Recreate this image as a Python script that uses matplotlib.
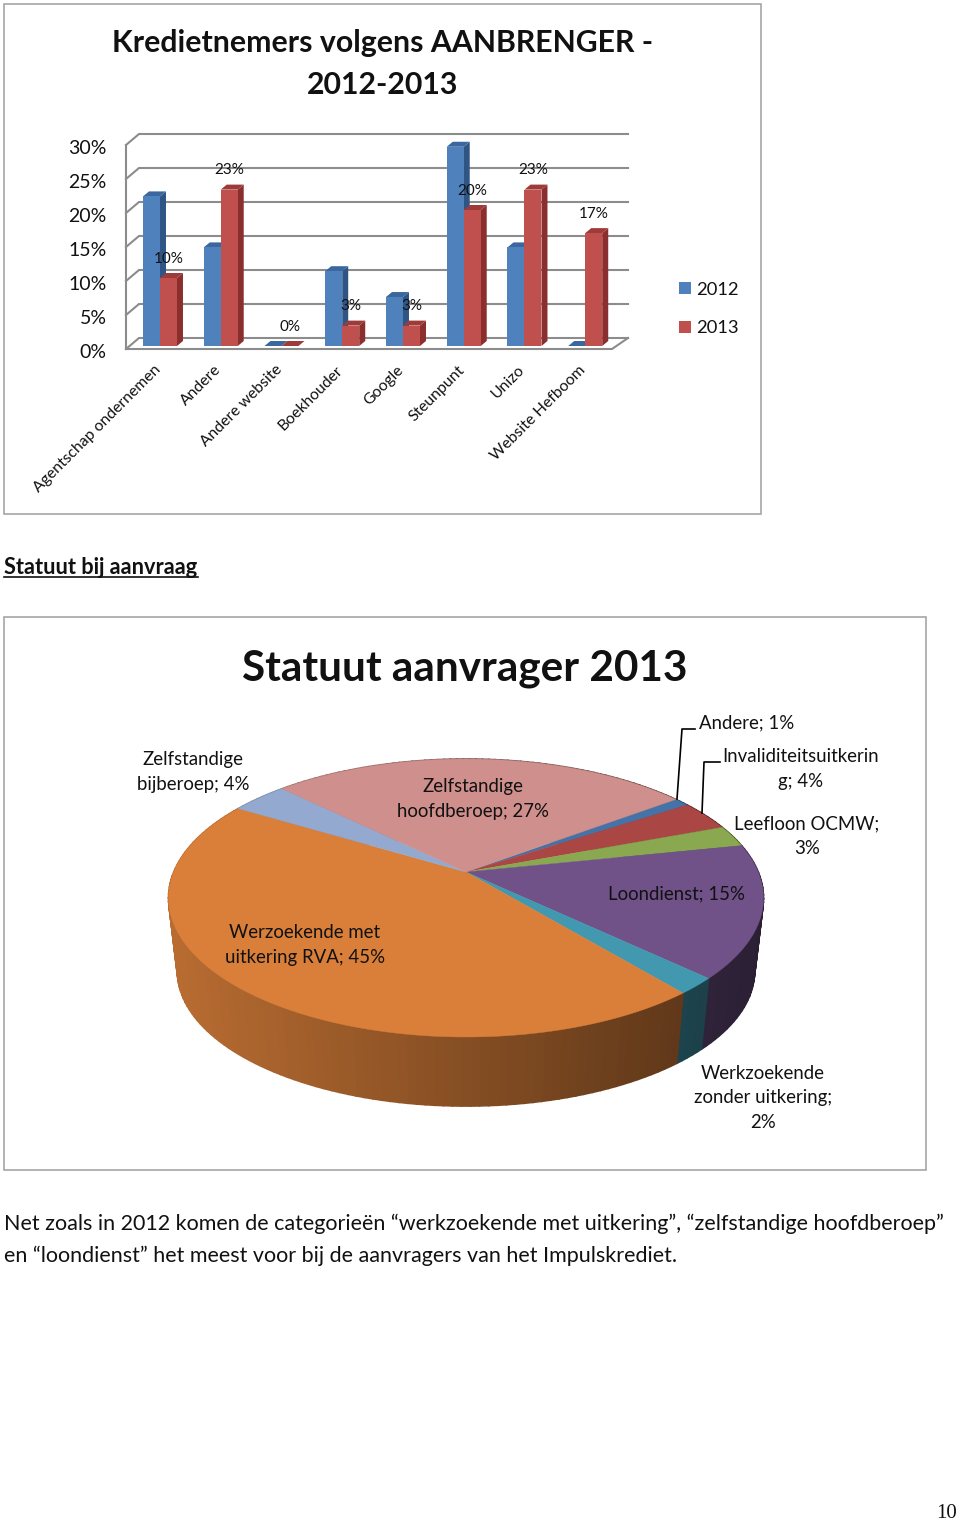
#!/usr/bin/env python3
import numpy as np
import matplotlib
matplotlib.use('Agg')
import matplotlib.pyplot as plt
from matplotlib.patches import Rectangle
from matplotlib.transforms import ScaledTranslation

plt.rcParams['font.family'] = ['Lato', 'DejaVu Sans']

W, H = 960, 1521

# bar chart data
categories = ['Agentschap ondernemen', 'Andere', 'Andere website', 'Boekhouder',
              'Google', 'Steunpunt', 'Unizo', 'Website Hefboom']
values_2012 = [22.0, 14.5, 0.0, 11.0, 7.2, 29.3, 14.5, 0.0]
values_2013 = [10.0, 23.0, 0.0, 3.0, 3.0, 20.0, 23.0, 16.6]
percent_ticks = [0, 5, 10, 15, 20, 25, 30]

# pie chart data, clockwise from the first slice
pie_values = [1.0, 3.5, 2.5, 15.4, 1.9, 44.6, 3.7, 27.3]
pie_labels = ['Andere; 1%', 'Invaliditeitsuitkerin\ng; 4%', 'Leefloon OCMW;\n3%',
              'Loondienst; 15%', 'Werkzoekende\nzonder uitkering;\n2%',
              'Werzoekende met\nuitkering RVA; 45%', 'Zelfstandige\nbijberoep; 4%',
              'Zelfstandige\nhoofdberoep; 27%']
pie_colors = ['#4573A7', '#AA4644', '#8AA84F', '#705289', '#4198AF', '#D97F3A',
              '#93A9CF', '#CF8F8C']

fig = plt.figure(figsize=(W / 100, H / 100), dpi=100, facecolor='white')

# page axes in pixels, for the frames, page text and the pie
page = fig.add_axes([0, 0, 1, 1])
page.set_xlim(0, W)
page.set_ylim(H, 0)
page.axis('off')

page.add_patch(Rectangle((4, 4), 757, 510, fill=False, ec='#a6a6a6', lw=1.2))
page.add_patch(Rectangle((4, 617), 922, 553, fill=False, ec='#a6a6a6', lw=1.2))

page.text(383, 43, 'Kredietnemers volgens AANBRENGER -', fontsize=21.8, weight='bold',
          ha='center', va='center', color='#111111')
page.text(383, 85, '2012-2013', fontsize=21.8, weight='bold', ha='center', va='center',
          color='#111111')
page.text(465, 669, 'Statuut aanvrager 2013', fontsize=30.4, weight='bold', ha='center',
          va='center', color='#111111')
page.text(4, 568, 'Statuut bij aanvraag', fontsize=15.7, weight='bold', ha='left',
          va='center', color='#111111')
page.plot([4, 198], [577, 577], color='#111111', lw=1.2)
page.text(4, 1224, 'Net zoals in 2012 komen de categorieën “werkzoekende met uitkering”, '
          '“zelfstandige hoofdberoep”', fontsize=15.47, ha='left', va='center', color='#111111')
page.text(4, 1256, 'en “loondienst” het meest voor bij de aanvragers van het Impulskrediet.',
          fontsize=15.47, ha='left', va='center', color='#111111')
page.text(947, 1513, '10', fontsize=15, family='Liberation Serif', ha='center', va='center',
          color='#111111')

# bar chart axes: 0% sits on the front edge of the floor
ax = fig.add_axes([126 / W, 1 - 349 / H, 486 / W, 204 / H])
ax.patch.set_alpha(0)
ax.set_xlim(0, len(categories))
ax.set_ylim(0, 30)
for s in ax.spines.values():
    s.set_visible(False)

# size of one pixel in data units
px = len(categories) / 486
py = 30 / 204

wall_dx = 13 * px
wall_dy = 11 * py
grid_color = '#8c8c8c'
for t in percent_ticks:
    ax.plot([0, wall_dx, 489 * px + wall_dx], [t, t + wall_dy, t + wall_dy],
            color=grid_color, lw=1.5, clip_on=False, zorder=1, solid_joinstyle='miter')
ax.plot([0, 0], [0, 30], color=grid_color, lw=1.5, clip_on=False, zorder=1)
ax.plot([0, 486 * px, 486 * px + 16 * px], [0, 0, wall_dy], color=grid_color, lw=1.5,
        clip_on=False, zorder=1)

bar_w = 17 * px
depth_x = 6 * px
depth_y = 5 * py
base = 3 * py
shift = 3.6 * px
x_pos = np.arange(len(categories)) + 0.5 + shift


def draw_bars(xs, vals, front, side, top, z):
    bars = ax.bar(xs, vals, bar_w, bottom=base, align='edge', color=front, clip_on=False,
                  zorder=z + 1, linewidth=0)
    for x, v in zip(xs, vals):
        y = base + v
        ax.fill([x + bar_w, x + bar_w + depth_x, x + bar_w + depth_x, x + bar_w],
                [base, base + depth_y, y + depth_y, y], color=side, clip_on=False,
                zorder=z, lw=0)
        ax.fill([x, x + depth_x, x + bar_w + depth_x, x + bar_w],
                [y, y + depth_y, y + depth_y, y], color=top, clip_on=False, zorder=z, lw=0)
    return bars


bars_2012 = draw_bars(x_pos - bar_w, values_2012, '#4F81BD', '#2F5585', '#3A689E', 3)
bars_2013 = draw_bars(x_pos, values_2013, '#C0504D', '#8A2F2D', '#9E3B39', 5)

for x, v in zip(x_pos, values_2013):
    ax.annotate('{:.0f}%'.format(v), (x + bar_w / 2, base + v), xytext=(0, 14),
                textcoords='offset points', ha='center', va='center', fontsize=11,
                color='#111111', zorder=8, annotation_clip=False)

ax.set_yticks(percent_ticks)
ax.set_yticklabels(['{}%'.format(t) for t in percent_ticks], fontsize=14, color='#111111')
ax.set_xticks(np.arange(len(categories)) + 0.5)
ax.set_xticklabels(categories, rotation=45, ha='right', va='top', rotation_mode='anchor',
                   fontsize=11.3, color='#111111')
ax.tick_params(axis='y', length=0, pad=14.5)
ax.tick_params(axis='x', length=0, pad=10)
for lab in ax.get_xticklabels():
    lab.set_transform(lab.get_transform() + ScaledTranslation(-0.03, 0, fig.dpi_scale_trans))
for lab in ax.get_yticklabels():
    lab.set_transform(lab.get_transform() + ScaledTranslation(0.01, -0.015, fig.dpi_scale_trans))

leg = fig.legend([bars_2012, bars_2013], ['2012', '2013'], loc='center left',
                 bbox_to_anchor=(662 / W, 1 - 309 / H), frameon=False, fontsize=13.2,
                 handlelength=0.66, handleheight=0.66, handletextpad=0.3, labelspacing=1.25)
for txt in leg.get_texts():
    txt.set_color('#111111')

# pie: a tilted circle through a perspective mapping
apex_x, apex_y = 466, 872
far, near = 113, 165
k = (near - far) / (near + far)
a = far * (1 + k)
half_width = 297.5
c = half_width * np.sqrt(1 - k * k)
rim_scale = 0.97
rim_drop = 74


def top_face(deg):
    u = np.cos(np.radians(deg))
    v = np.sin(np.radians(deg))
    return apex_x + c * u / (1 + k * v), apex_y - a * v / (1 + k * v)


def rim(deg):
    x, y = top_face(deg)
    return apex_x + rim_scale * (x - apex_x), apex_y + rim_scale * (y - apex_y) + rim_drop


def shaded(color, x):
    t = (x - (apex_x - half_width)) / (2 * half_width)
    f = 0.85 - 0.47 * t
    return tuple(f * q for q in matplotlib.colors.to_rgb(color))


angle = 37.0
slices = []
for value, color in zip(pie_values, pie_colors):
    sweep = value / sum(pie_values) * 360
    slices.append((angle, angle - sweep, color))
    angle -= sweep

for start, end, color in slices:
    steps = np.linspace(start, end, max(2, int(abs(start - end) / 1.5) + 2))
    for d0, d1 in zip(steps[:-1], steps[1:]):
        x0, y0 = top_face(d0)
        x1, y1 = top_face(d1)
        x2, y2 = rim(d1)
        x3, y3 = rim(d0)
        col = shaded(color, (x0 + x1) / 2)
        page.fill([x0, x1, x2, x3], [y0, y1, y2, y3], color=col, lw=1.2, zorder=2)

for start, end, color in slices:
    steps = np.linspace(start, end, max(3, int(abs(start - end)) + 2))
    xs, ys = top_face(steps)
    page.fill(np.r_[apex_x, xs], np.r_[apex_y, ys], color=color, lw=0.3, zorder=3)

label_pos = [(747, 723), (801, 769), (807, 836), (676, 894), (763, 1098), (305, 945),
             (193, 772), (473, 799)]
for label, (lx, ly) in zip(pie_labels, label_pos):
    page.text(lx, ly, label, fontsize=13.4, ha='center', va='center', color='#111111',
              linespacing=1.57, zorder=5)

# leader lines
page.plot([695, 682, 677], [729, 729, 799], color='black', lw=1.2, zorder=4)
page.plot([720, 704, 702], [762, 762, 813], color='black', lw=1.2, zorder=4)

fig.savefig('out.png', dpi=100, facecolor='white')
